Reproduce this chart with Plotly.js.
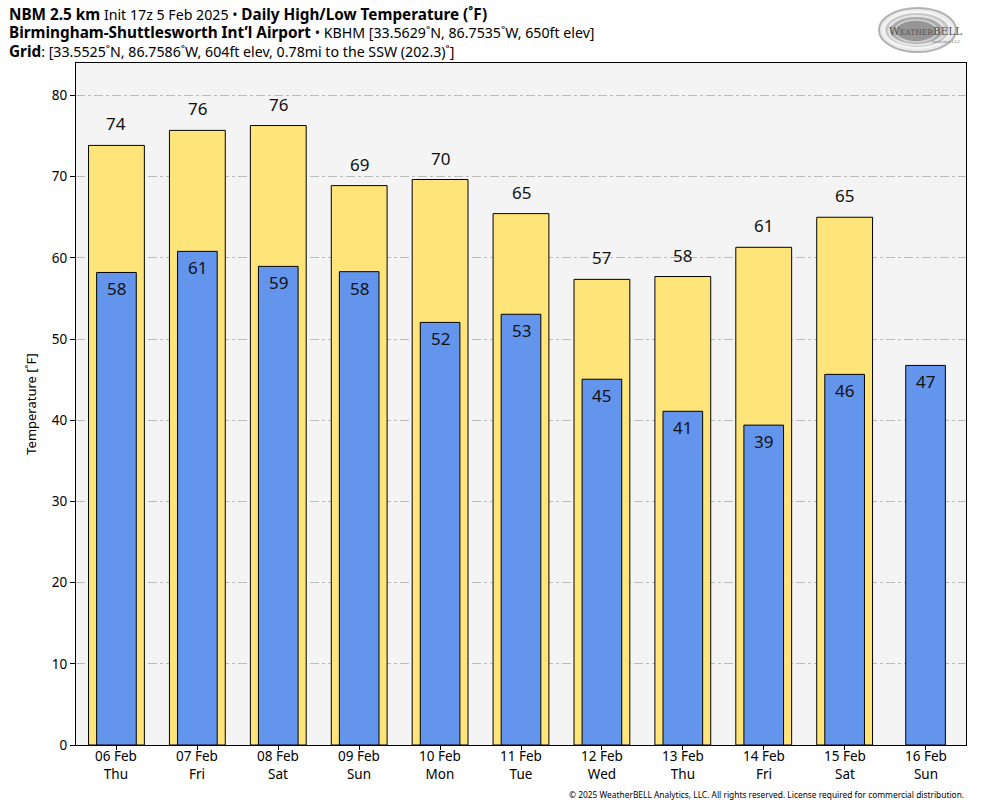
<!DOCTYPE html>
<html>
<head>
<meta charset="utf-8">
<script src="https://cdn.plot.ly/plotly-3.0.1.min.js"></script>
<style>body{margin:0;padding:0;background:#fff;} #chart{width:984px;height:808px;}</style>
</head>
<body>
<div id="chart"></div>
<script>
const dates = ["06 Feb","07 Feb","08 Feb","09 Feb","10 Feb","11 Feb","12 Feb","13 Feb","14 Feb","15 Feb","16 Feb"];
const days = ["Thu","Fri","Sat","Sun","Mon","Tue","Wed","Thu","Fri","Sat","Sun"];
const highs = [73.85, 75.7, 76.3, 68.9, 69.65, 65.45, 57.35, 57.7, 61.3, 65.0, null];
const lows = [58.2, 60.8, 58.95, 58.3, 52.05, 53.05, 45.05, 41.1, 39.4, 45.65, 46.75];
const highLabels = ["74","76","76","69","70","65","57","58","61","65",""];
const lowLabels = ["58","61","59","58","52","53","45","41","39","46","47"];
const yTicks = [0,10,20,30,40,50,60,70,80];

const fontFam = "Noto Sans, Open Sans, DejaVu Sans, sans-serif";

const highTrace = {
  type: 'bar', x: dates, y: highs, width: 0.69,
  marker: {color: '#FFE47A', line: {color: '#000', width: 1}},
  hoverinfo: 'skip', showlegend: false
};
const lowTrace = {
  type: 'bar', x: dates, y: lows, width: 0.49,
  marker: {color: '#6495ED', line: {color: '#000', width: 1}},
  hoverinfo: 'skip', showlegend: false
};

const annotations = [];
dates.forEach((c, i) => {
  if (highs[i] !== null) {
    annotations.push({x: c, y: highs[i], xref: 'x', yref: 'y', text: highLabels[i],
      showarrow: false, yanchor: 'bottom', yshift: 8, font: {family: fontFam, size: 17, color: '#111'}});
  }
  if (lows[i] !== null) {
    annotations.push({x: c, y: lows[i], xref: 'x', yref: 'y', text: lowLabels[i],
      showarrow: false, yanchor: 'top', yshift: -3, font: {family: fontFam, size: 17, color: '#111'}});
  }
  annotations.push({x: c, y: 0, xref: 'x', yref: 'paper', text: dates[i] + '<br>' + days[i], showarrow: false,
    yanchor: 'middle', yshift: -20, font: {family: fontFam, size: 13.5, color: '#000'}});
});

// header text
const B = s => '<b><span style="font-size:15.3px">' + s + '</span></b>';
const hdr = [
  B('NBM 2.5 km') + ' Init 17z 5 Feb 2025 \u2022 ' + B('Daily High/Low Temperature (\u02daF)'),
  B('Birmingham-Shuttlesworth Int\u2019l Airport') + ' \u2022 KBHM [33.5629\u02daN, 86.7535\u02daW, 650ft elev]',
  B('Grid') + ': [33.5525\u02daN, 86.7586\u02daW, 604ft elev, 0.78mi to the SSW (202.3)\u02da]'
];
annotations.push({xref: 'paper', yref: 'paper', x: -0.0775, y: 1.0, xanchor: 'left', yanchor: 'middle',
  yshift: 31, align: 'left', showarrow: false, text: hdr.join('<br>'),
  font: {family: fontFam, size: 14.2, color: '#000'}});
// footer
annotations.push({xref: 'paper', yref: 'paper', x: 1.0, y: 0, xanchor: 'right', yanchor: 'middle', yshift: -49, showarrow: false,
  text: '\u00a9 2025 WeatherBELL Analytics, LLC. All rights reserved. License required for commercial distribution.', font: {family: fontFam, size: 8.4, color: '#000'}});
// logo text
annotations.push({xref: 'paper', yref: 'paper', x: 0.955, y: 1.0, xanchor: 'center', yanchor: 'middle', yshift: 32, showarrow: false,
  text: 'W<span style="font-size:7.5px">EATHER</span>BELL', font: {family: 'DejaVu Serif, serif', size: 10.5, color: '#555'}});
annotations.push({xref: 'paper', yref: 'paper', x: 0.995, y: 1.0, xanchor: 'right', yanchor: 'middle', yshift: 22, showarrow: false,
  text: 'Analytics LLC', font: {family: 'DejaVu Serif, serif', size: 4, color: '#777'}});

const px = v => (v - 76) / 890;
const py = v => 1 + (63 - v) / 682;
const shapes = [
  {type: 'circle', xref: 'paper', yref: 'paper', x0: px(879), x1: px(956), y0: py(52), y1: py(8), fillcolor: 'rgba(235,235,235,1)', line: {color: 'rgba(160,160,160,0.8)', width: 2}, layer: 'above'},
  {type: 'circle', xref: 'paper', yref: 'paper', x0: px(884), x1: px(950), y0: py(48), y1: py(12), fillcolor: 'rgba(200,200,200,1)', line: {color: 'rgba(245,245,245,1)', width: 2}, layer: 'above'},
  {type: 'circle', xref: 'paper', yref: 'paper', x0: px(889), x1: px(944), y0: py(45), y1: py(16), fillcolor: 'rgba(170,170,170,1)', line: {color: 'rgba(230,230,230,1)', width: 2}, layer: 'above'},
  {type: 'circle', xref: 'paper', yref: 'paper', x0: px(895), x1: px(937), y0: py(42), y1: py(20), fillcolor: 'rgba(150,150,150,1)', line: {color: 'rgba(210,210,210,1)', width: 1.5}, layer: 'above'}
];

const layout = {
  width: 984, height: 808,
  margin: {l: 76, r: 18, t: 63, b: 63, pad: 0},
  paper_bgcolor: '#ffffff', plot_bgcolor: '#f4f4f4',
  barmode: 'overlay', bargap: 0,
  font: {family: fontFam, size: 13, color: '#000'},
  xaxis: {
    type: 'category', showline: true, linecolor: '#000', linewidth: 1, mirror: true,
    ticks: 'outside', ticklen: 4, tickcolor: '#000', showgrid: false,
    showticklabels: false, fixedrange: true
  },
  yaxis: {
    range: [0, 84], tickvals: yTicks, ticktext: yTicks.map(String),
    showline: true, linecolor: '#000', linewidth: 1, mirror: true,
    ticks: 'outside', ticklen: 5, tickcolor: '#000',
    showgrid: true, gridcolor: '#bbbbbb', gridwidth: 1, griddash: 'dashdot', zeroline: false,
    tickfont: {family: fontFam, size: 13.5, color: '#000'},
    title: {text: 'Temperature [\u02daF]', font: {family: fontFam, size: 13, color: '#000'}, standoff: 12}
  },
  annotations: annotations,
  shapes: shapes
};

Plotly.newPlot('chart', [highTrace, lowTrace], layout, {staticPlot: true, displayModeBar: false});
</script>
</body>
</html>
